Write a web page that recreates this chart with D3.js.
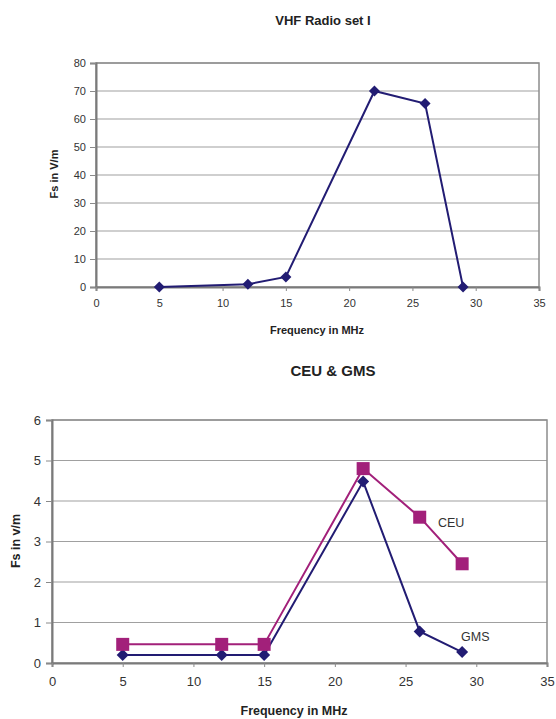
<!DOCTYPE html>
<html><head><meta charset="utf-8">
<script src="https://cdn.jsdelivr.net/npm/d3@7"></script>
<style>body{margin:0;background:#fff;}svg{display:block;font-family:Arial,"Liberation Sans",sans-serif;}</style>
</head><body>
<svg id="c" width="556" height="719"></svg>
<script>
// ---- Chart 1: VHF Radio set I ----
const vhfFreq = [5, 12, 15, 22, 26, 29];
const vhfFs = [0, 1, 3.6, 70, 65.5, 0];
const xTicks = [0, 5, 10, 15, 20, 25, 30, 35];
const vhfYTicks = [0, 10, 20, 30, 40, 50, 60, 70, 80];

// ---- Chart 2: CEU & GMS ----
const cgFreq = [5, 12, 15, 22, 26, 29];
const gmsFs = [0.2, 0.2, 0.2, 4.48, 0.78, 0.27];
const ceuFs = [0.46, 0.46, 0.46, 4.8, 3.6, 2.45];
const cgYTicks = [0, 1, 2, 3, 4, 5, 6];

const navy = "#221c73";
const magenta = "#a2207a";
const svg = d3.select("#c");

function frame(g, x, y, yTicks, opt) {
  const [x0, x1] = x.range();
  const [y0, y1] = y.range();
  g.append("g").selectAll("line").data(yTicks.filter(d => d !== yTicks[0]))
    .join("line").attr("x1", x0).attr("x2", x1)
    .attr("y1", d => y(d)).attr("y2", d => y(d))
    .attr("stroke", "#a0a0a0").attr("stroke-width", 1.2);
  g.append("rect").attr("x", x0).attr("y", y1).attr("width", x1 - x0).attr("height", y0 - y1)
    .attr("fill", "none").attr("stroke", "#8c8c8c").attr("stroke-width", 1.5);
  const ya = g.append("g").attr("transform", `translate(${x0},0)`)
    .call(d3.axisLeft(y).tickValues(yTicks).tickFormat(d3.format("d")).tickSize(6).tickPadding(opt.yPad));
  const xa = g.append("g").attr("transform", `translate(0,${y0})`)
    .call(d3.axisBottom(x).tickValues(xTicks).tickFormat(d3.format("d")).tickSize(4).tickPadding(opt.xPad));
  [ya, xa].forEach(a => {
    a.select(".domain").attr("stroke", "#7a7a7a").attr("stroke-width", 2);
    a.selectAll(".tick line").attr("stroke", "#8a8a8a").attr("stroke-width", 1);
    a.selectAll("text").attr("fill", "#333").style("font-size", opt.tickFont + "px");
  });
}

function diamond(g, pts, r, color) {
  g.selectAll(null).data(pts).join("path")
    .attr("d", d => `M${d[0]},${d[1]-r}L${d[0]+r},${d[1]}L${d[0]},${d[1]+r}L${d[0]-r},${d[1]}Z`)
    .attr("fill", color);
}

// Chart 1
{
  const x = d3.scaleLinear().domain([0, 35]).range([96, 539]);
  const y = d3.scaleLinear().domain([0, 80]).range([287, 63]);
  const g = svg.append("g");
  frame(g, x, y, vhfYTicks, {yPad: 4, xPad: 8, tickFont: 11});
  const pts = vhfFreq.map((f, i) => [x(f), y(vhfFs[i])]);
  g.append("path").attr("d", d3.line()(pts)).attr("fill", "none")
    .attr("stroke", navy).attr("stroke-width", 2);
  diamond(g, pts, 5.5, navy);
  g.append("text").attr("x", 323).attr("y", 25).attr("text-anchor", "middle")
    .style("font-size", "13px").style("font-weight", "bold").attr("fill", "#222").text("VHF Radio set I");
  g.append("text").attr("x", 317).attr("y", 334).attr("text-anchor", "middle")
    .style("font-size", "11px").style("font-weight", "bold").attr("fill", "#222").text("Frequency in MHz");
  g.append("text").attr("transform", "translate(58,174) rotate(-90)").attr("text-anchor", "middle")
    .style("font-size", "11px").style("font-weight", "bold").attr("fill", "#222").text("Fs in V/m");
}

// Chart 2
{
  const x = d3.scaleLinear().domain([0, 35]).range([52, 547]);
  const y = d3.scaleLinear().domain([0, 6]).range([663, 420]);
  const g = svg.append("g");
  frame(g, x, y, cgYTicks, {yPad: 5, xPad: 10, tickFont: 13});
  const gp = cgFreq.map((f, i) => [x(f), y(gmsFs[i])]);
  const cp = cgFreq.map((f, i) => [x(f), y(ceuFs[i])]);
  g.append("path").attr("d", d3.line()(cp)).attr("fill", "none")
    .attr("stroke", magenta).attr("stroke-width", 2);
  g.append("path").attr("d", d3.line()(gp)).attr("fill", "none")
    .attr("stroke", navy).attr("stroke-width", 2);
  diamond(g, gp, 6, navy);
  g.selectAll(null).data(cp).join("rect")
    .attr("x", d => d[0] - 6.5).attr("y", d => d[1] - 6.5)
    .attr("width", 13).attr("height", 13).attr("fill", magenta);
  g.append("text").attr("x", 438).attr("y", 527).style("font-size", "12.5px").attr("fill", "#333").text("CEU");
  g.append("text").attr("x", 461).attr("y", 641).style("font-size", "12.5px").attr("fill", "#333").text("GMS");
  g.append("text").attr("x", 333).attr("y", 376).attr("text-anchor", "middle")
    .style("font-size", "15px").style("font-weight", "bold").attr("fill", "#222").text("CEU & GMS");
  g.append("text").attr("x", 294).attr("y", 715).attr("text-anchor", "middle")
    .style("font-size", "12.5px").style("font-weight", "bold").attr("fill", "#222").text("Frequency in MHz");
  g.append("text").attr("transform", "translate(20,541) rotate(-90)").attr("text-anchor", "middle")
    .style("font-size", "12.5px").style("font-weight", "bold").attr("fill", "#222").text("Fs in v/m");
}
</script>
</body></html>
